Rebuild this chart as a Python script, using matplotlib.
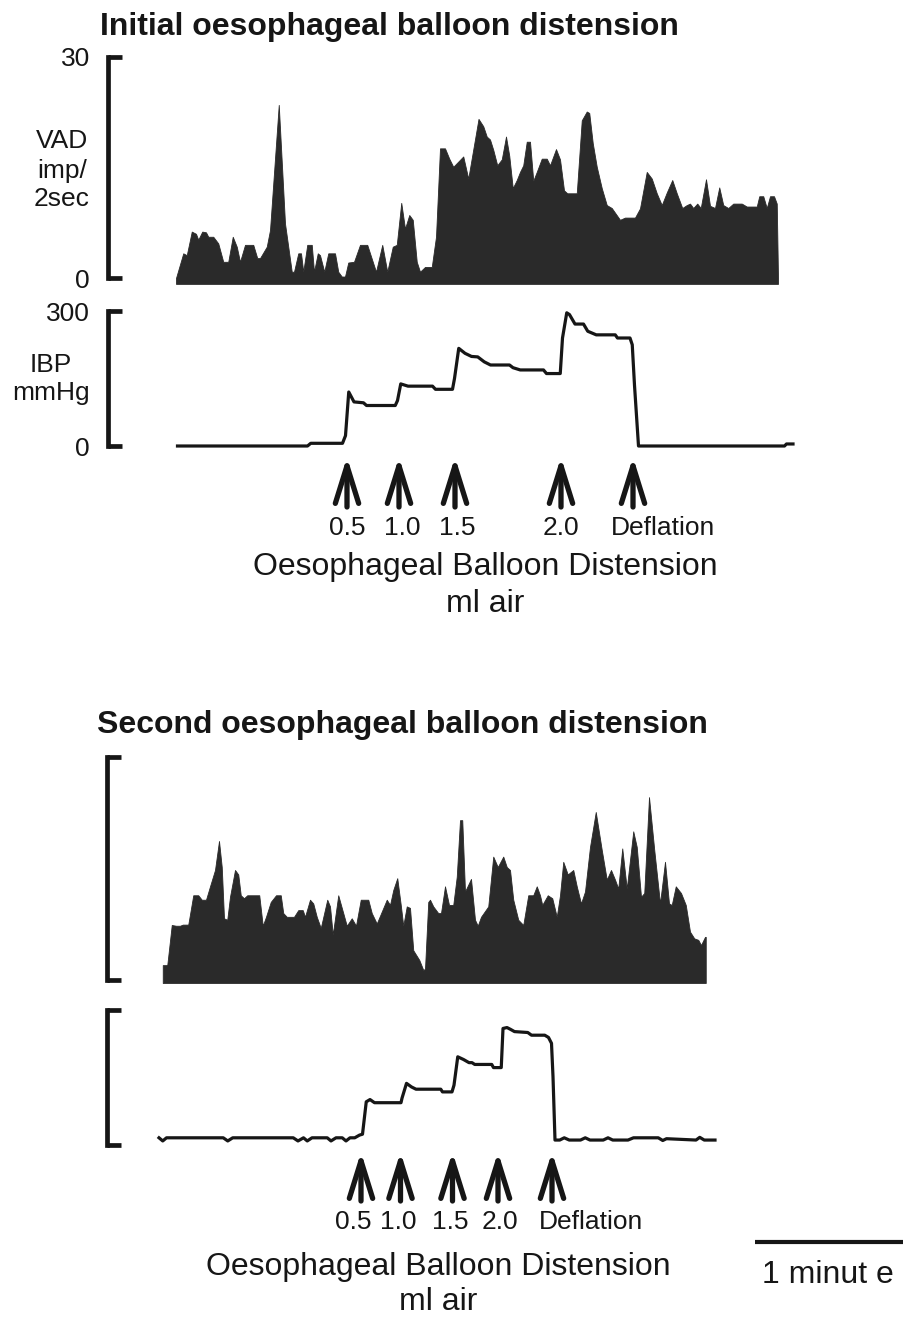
import matplotlib.pyplot as plt
from matplotlib.transforms import blended_transform_factory

plt.rcParams['font.family'] = ['Liberation Sans', 'DejaVu Sans']

# =========================================================
# DATA  (time in seconds from start of trace)
# =========================================================

# initial distension: vagal afferent discharge, imp / 2 sec
vad1 = [(0, 0), (2.9, 3.35), (4.3, 3.1), (6.3, 6.3), (8.0, 6.0), (8.9, 5.2), (10.5, 6.3),
        (12.0, 6.2), (12.9, 5.6), (14.9, 5.6), (16.9, 4.7), (18.9, 2.2), (20.9, 2.2),
        (22.7, 5.6), (24.3, 4.25), (25.6, 2.2), (27.6, 4.5), (30.9, 4.5), (32.5, 2.7),
        (33.6, 2.7), (36.3, 4.25), (37.6, 6.5), (41.1, 23.5), (43.6, 7.4), (46.3, 0.85),
        (47.2, 0.85), (48.9, 3.35), (50.0, 3.35), (50.9, 0.85), (52.5, 4.5), (54.3, 4.5),
        (55.2, 0.85), (56.7, 3.35), (57.6, 3.1), (59.3, 0.85), (60.9, 3.35), (63.6, 3.35),
        (64.9, 0.85), (66.3, 0.2), (67.6, 0.2), (68.9, 2.1), (71.2, 2.2), (73.6, 4.5),
        (76.5, 4.5), (80.0, 0.85), (82.5, 4.5), (84.5, 0.85), (86.7, 4.25), (88.3, 4.5),
        (90.1, 10.2), (91.6, 6.7), (93.3, 8.55), (94.7, 7.9), (96.3, 2.2), (97.6, 0.85),
        (99.6, 1.5), (102.3, 1.5), (104.0, 5.6), (105.6, 17.6), (107.6, 17.6), (109.3, 16.2),
        (110.9, 15.1), (112.9, 15.8), (114.9, 16.5), (116.9, 13.5), (121.0, 21.6),
        (122.9, 20.6), (124.3, 19.2), (125.6, 18.8), (126.9, 17.4), (128.5, 15.3),
        (130.3, 16.1), (132.0, 19.2), (133.3, 16.6), (134.7, 12.2), (136.3, 13.3),
        (137.6, 14.4), (138.9, 15.3), (140.3, 18.5), (141.6, 18.5), (142.9, 13.2),
        (144.3, 14.4), (146.3, 16.2), (148.3, 16.2), (149.6, 15.3), (152.0, 17.5),
        (153.6, 16.1), (155.2, 11.9), (156.5, 11.5), (160.3, 11.5), (162.3, 21.4),
        (164.3, 22.6), (165.3, 22.4), (166.7, 18.3), (168.3, 15.1), (170.3, 12.2),
        (172.3, 9.9), (174.3, 9.5), (177.6, 7.9), (179.6, 8.2), (183.6, 8.2), (185.6, 9.45),
        (188.3, 14.4), (190.3, 13.5), (192.3, 11.5), (194.3, 9.9), (196.3, 11.6),
        (198.5, 13.3), (200.3, 11.5), (202.5, 9.5), (204.3, 9.9), (205.6, 10.1),
        (206.9, 9.5), (208.5, 10.1), (209.9, 9.5), (212.0, 13.4), (213.6, 9.8), (215.6, 9.5),
        (217.3, 12.3), (218.9, 9.9), (220.9, 9.5), (222.9, 10.1), (226.3, 10.1),
        (228.3, 9.7), (232.3, 9.7), (233.3, 11.1), (234.9, 11.1), (236.3, 9.5),
        (237.6, 11.1), (239.2, 11.1), (240.3, 10.1), (240.8, 0)]

# initial distension: intraballoon pressure, mmHg
ibp1 = [(0.6, 0), (52.6, 0), (53.9, 6), (66.6, 6), (67.8, 23), (69.1, 120), (71.2, 98),
        (75.0, 96), (76.2, 90), (87.7, 90), (88.6, 101), (89.9, 138), (92.8, 133),
        (102.6, 133), (103.8, 126), (110.6, 126), (111.4, 150), (113.1, 217), (115.6, 206),
        (118.2, 199), (120.7, 198), (123.3, 187), (125.8, 180), (133.4, 180), (134.8, 174),
        (137.7, 169), (147.0, 169), (148.2, 161), (153.7, 161), (154.6, 240), (156.3, 296),
        (157.4, 292), (159.6, 271), (163.0, 271), (164.7, 255), (168.1, 247), (175.7, 247),
        (176.6, 240), (181.6, 240), (182.5, 225), (183.4, 135), (185.0, 0), (243.4, 0),
        (244.2, 4.5), (246.8, 4.5)]

# second distension: vagal afferent discharge
vad2 = [(0.3, 2.0), (2.1, 2.0), (3.9, 7.4), (5.6, 7.3), (7.2, 7.3), (8.3, 7.45), (10.5, 7.45),
        (12.5, 11.4), (14.5, 11.4), (15.9, 10.8), (17.6, 10.8), (19.2, 12.6), (21.2, 14.8),
        (22.8, 18.7), (23.9, 15.2), (24.8, 8.3), (26.1, 8.1), (27.2, 11.2), (29.2, 14.8),
        (30.5, 14.2), (31.5, 11.4), (32.8, 11.0), (34.1, 11.4), (38.9, 11.4), (40.3, 7.3),
        (41.6, 8.5), (43.5, 10.5), (45.6, 11.4), (47.5, 11.4), (48.5, 9.0), (49.9, 8.5),
        (52.8, 8.5), (54.5, 9.4), (56.3, 9.4), (57.2, 8.5), (59.2, 10.8), (60.5, 10.3),
        (61.9, 8.5), (63.5, 7.0), (66.1, 10.8), (67.2, 9.9), (68.3, 6.1), (70.5, 11.4),
        (72.5, 9.0), (73.9, 7.3), (75.9, 8.3), (77.6, 7.3), (79.5, 10.8), (82.5, 10.8),
        (83.9, 9.0), (85.9, 7.6), (87.9, 9.2), (89.9, 10.8), (91.2, 10.1), (92.5, 12.1),
        (94.1, 13.7), (95.5, 10.1), (96.5, 7.3), (97.9, 9.9), (99.2, 9.7), (100.5, 4.0),
        (102.9, 2.7), (104.5, 1.35), (105.2, 1.5), (106.5, 10.5), (107.2, 10.8),
        (108.5, 9.9), (110.5, 9.0), (111.6, 9.0), (113.2, 12.6), (114.8, 10.1),
        (116.5, 10.1), (117.9, 13.9), (119.2, 21.5), (120.1, 21.5), (121.2, 11.9),
        (123.6, 13.6), (125.2, 8.1), (126.3, 7.3), (127.6, 8.5), (130.5, 9.9), (132.5, 16.6),
        (134.3, 15.2), (136.5, 16.6), (137.9, 15.2), (139.2, 14.8), (140.5, 10.8),
        (142.5, 8.1), (144.5, 7.4), (146.5, 11.4), (148.5, 11.4), (149.9, 12.6),
        (151.2, 11.4), (152.1, 10.1), (154.3, 11.4), (156.1, 11.0), (157.9, 8.5),
        (159.2, 11.4), (160.5, 15.9), (162.3, 14.2), (164.5, 14.8), (165.9, 12.6),
        (167.6, 10.3), (169.2, 11.9), (171.2, 17.9), (173.5, 22.6), (175.9, 17.5),
        (177.9, 13.5), (179.6, 14.8), (181.2, 13.5), (182.5, 12.3), (184.1, 17.7),
        (185.9, 12.3), (188.5, 20.0), (189.9, 17.9), (191.6, 11.2), (192.9, 11.7),
        (194.8, 24.6), (196.9, 17.5), (199.2, 10.3), (201.2, 15.9), (202.8, 10.3),
        (203.9, 10.1), (205.5, 12.6), (207.6, 11.7), (209.5, 10.1), (211.2, 6.5),
        (212.9, 5.6), (214.5, 5.4), (215.6, 4.7), (217.2, 5.8), (217.5, 5.8)]

# second distension: intraballoon pressure
ibp2 = [(-1.2, 16), (0.3, 9), (1.8, 16), (24.5, 16), (26.3, 9), (28.3, 16), (52.5, 16),
        (54.4, 9), (56.6, 16), (58.1, 9), (60.0, 16), (66.1, 16), (67.6, 9), (69.6, 16),
        (72.1, 16), (73.6, 9), (75.2, 16), (77.1, 16), (79.0, 22), (80.2, 24), (81.7, 96),
        (83.2, 101), (85.0, 94), (95.6, 94), (96.0, 104), (97.8, 137), (99.8, 129),
        (101.6, 124), (111.5, 124), (112.2, 118), (116.0, 118), (116.8, 133), (118.3, 196),
        (120.6, 190), (122.8, 183), (124.0, 183), (125.1, 179), (131.9, 179), (132.6, 172),
        (135.7, 172), (136.4, 259), (138.0, 261), (139.4, 257), (141.0, 252), (146.3, 250),
        (147.8, 244), (153.1, 244), (154.6, 239), (155.8, 226), (156.4, 152), (157.2, 11),
        (159.1, 11), (160.9, 16), (162.9, 11), (167.4, 11), (169.3, 16), (171.2, 11),
        (176.5, 11), (178.4, 16), (180.3, 11), (186.4, 11), (188.6, 16), (198.5, 16),
        (200.3, 10), (201.8, 14), (213.6, 11), (215.1, 17), (216.9, 11), (221.2, 11)]

event_labels = ["0.5", "1.0", "1.5", "2.0", "Deflation"]
events1_t = [68.4, 89.2, 111.6, 154.0, 182.8]
events2_t = [79.6, 95.4, 116.2, 134.4, 156.0]

vad_ticks = [0, 30]
ibp_ticks = [0, 300]
scale_bar_s = 60

# =========================================================
# LAYOUT
# =========================================================

W, H = 904, 1318
PX_PER_S = 2.5
INK = "#161616"
FILL = "#2a2a2a"

fig = plt.figure(figsize=(W / 100, H / 100), dpi=100)


def px_axes(left, top, right, bottom, t0_px, lo_px, hi_px, lo, hi):
    ax = fig.add_axes([left / W, 1 - bottom / H, (right - left) / W, (bottom - top) / H])
    ax.set_xlim((left - t0_px) / PX_PER_S, (right - t0_px) / PX_PER_S)
    per = (lo_px - hi_px) / (hi - lo)
    ax.set_ylim(lo - (bottom - lo_px) / per, hi + (hi_px - top) / per)
    ax.box = (top, bottom)
    return ax


def bracket(ax, ticks, labels):
    for s in ["top", "right", "bottom"]:
        ax.spines[s].set_visible(False)
    ax.spines["left"].set_bounds(ticks[0], ticks[1])
    ax.spines["left"].set_linewidth(3.4)
    ax.spines["left"].set_color(INK)
    ax.set_yticks(ticks)
    ax.set_yticklabels(labels)
    ax.tick_params(axis="y", direction="in", length=10, width=3.4, pad=13,
                   labelsize=19, colors=INK)
    ax.set_xticks([])
    ax.patch.set_visible(False)


def yfrac(ax, y):
    top, bottom = ax.box
    return (bottom - y) / (bottom - top)


def fig_text(x, y, s, **kw):
    kw.setdefault("color", INK)
    fig.text(x / W, 1 - y / H, s, **kw)


def arrows(ax, times, label_dx, tip, tail, label_y):
    tr = blended_transform_factory(ax.transData, ax.transAxes)
    for t, lab, dx in zip(times, event_labels, label_dx):
        ax.annotate("", xy=(t, yfrac(ax, tip)), xytext=(t, yfrac(ax, tail)),
                    xycoords=tr, textcoords=tr, annotation_clip=False,
                    arrowprops=dict(arrowstyle="->,head_length=1.35,head_width=0.42",
                                    lw=3.8, color=INK, shrinkA=0, shrinkB=0,
                                    mutation_scale=20))
        ax.text(t + dx / PX_PER_S, yfrac(ax, label_y), lab, transform=tr,
                ha="center", va="center", fontsize=19, color=INK)


# ---- panel 1: initial VAD ----
ax1 = px_axes(108, 50, 800, 292, 176, 278, 57, 0, 30)
t, v = zip(*vad1)
ax1.fill_between(t, v, -0.8, color=FILL, lw=0.6, edgecolor=FILL)
bracket(ax1, vad_ticks, ["0", "30"])

# ---- panel 2: initial IBP ----
ax2 = px_axes(108, 300, 800, 460, 176, 446, 311, 0, 300)
t, v = zip(*ibp1)
ax2.plot(t, v, color=INK, lw=2.3)
bracket(ax2, ibp_ticks, ["0", "300"])
arrows(ax2, events1_t, [0, 3, 2, 0, 30], 457, 507, 528)

# ---- panel 3: second VAD ----
ax3 = px_axes(107, 750, 800, 992, 162, 980, 757, 0, 30)
t, v = zip(*vad2)
ax3.fill_between(t, v, -0.4, color=FILL, lw=0.6, edgecolor=FILL)
bracket(ax3, vad_ticks, ["", ""])

# ---- panel 4: second IBP ----
ax4 = px_axes(107, 1000, 800, 1155, 162, 1145, 1010, 0, 300)
t, v = zip(*ibp2)
ax4.plot(t, v, color=INK, lw=2.3)
bracket(ax4, ibp_ticks, ["", ""])
arrows(ax4, events2_t, [-8, -2, -2, 2, 39], 1152, 1201, 1222)

# scale bar, 1 minute on the time axis of the lower record
tr4 = blended_transform_factory(ax4.transData, ax4.transAxes)
bar_start = (755 - 162) / PX_PER_S
ax4.plot([bar_start, bar_start + scale_bar_s], [yfrac(ax4, 1242)] * 2, transform=tr4,
         color=INK, lw=3, clip_on=False, solid_capstyle="butt")

# ---- text ----
fig_text(100, 35, "Initial oesophageal balloon distension", fontsize=23,
         fontweight="bold", va="baseline")
fig_text(97, 733, "Second oesophageal balloon distension", fontsize=23,
         fontweight="bold", va="baseline")

for s, y in zip(["VAD", "imp/", "2sec"], [148, 178, 206]):
    fig_text(62, y, s, fontsize=19, ha="center", va="baseline")
for s, y in zip(["IBP", "mmHg"], [372, 400]):
    fig_text(51, y, s, fontsize=19, ha="center", va="baseline")

fig_text(485, 567, "Oesophageal Balloon Distension", fontsize=23, ha="center", va="center")
fig_text(485, 604, "ml air", fontsize=23, ha="center", va="center")
fig_text(438, 1267, "Oesophageal Balloon Distension", fontsize=23, ha="center", va="center")
fig_text(438, 1302, "ml air", fontsize=23, ha="center", va="center")
fig_text(762, 1283, "1 minut e", fontsize=23, ha="left", va="baseline")

fig.savefig("out.png", dpi=100)
